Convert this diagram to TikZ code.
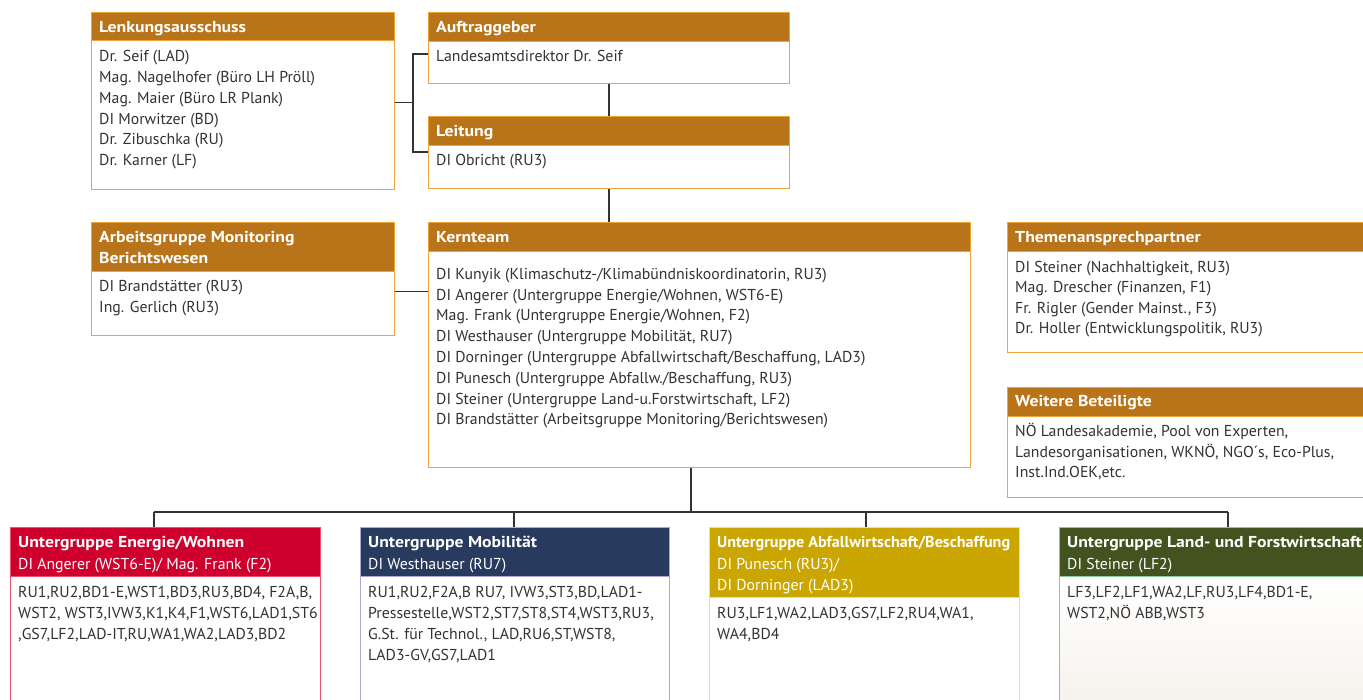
\documentclass[tikz,border=0pt]{standalone}
\usepackage{fontspec}
\usepackage{graphicx}
\setmainfont{PT Sans}
\newfontfamily\hdrfont[FakeStretch=1.12]{PT Sans}
\usetikzlibrary{calc}
\definecolor{hbrown}{HTML}{B97319}
\definecolor{bord}{HTML}{EFA43A}
\definecolor{txt}{HTML}{333333}
\definecolor{connc}{HTML}{333333}
\definecolor{ered}{HTML}{D0002E}
\definecolor{ebord}{HTML}{E8536B}
\definecolor{mnavy}{HTML}{283A5E}
\definecolor{mbord}{HTML}{A8A8D0}
\definecolor{agold}{HTML}{CBA600}
\definecolor{abord}{HTML}{F0DC9A}
\definecolor{lgreen}{HTML}{43531F}
\definecolor{lbord}{HTML}{8CC8A0}
\definecolor{lfade}{HTML}{F6F2EC}
\newcommand\fst{\rule{0pt}{15pt}}
\tikzset{
 hdr/.style={draw=bord, fill=hbrown, line width=1.3pt, inner sep=0pt, anchor=north west},
 bdy/.style={draw=bord, fill=white, line width=1.3pt, inner sep=0pt, anchor=north west},
 htext/.style={text=white, font=\fontsize{15.8}{21}\selectfont\hdrfont\bfseries, inner sep=0pt, anchor=north west, align=left},
 hltext/.style={text=white, font=\fontsize{15.8}{21.5}\selectfont, inner sep=0pt, anchor=north west, align=left},
 btext/.style={text=txt, font=\fontsize{15.8}{20.7}\selectfont, inner sep=0pt, anchor=north west, align=left},
 conn/.style={draw=connc, line width=1.4pt},
}
\begin{document}
\begin{tikzpicture}[x=1pt,y=-1pt]
\useasboundingbox (0,0) rectangle (1363,699);
\clip (0,0) rectangle (1363,699);
% Lenkungsausschuss
\node[hdr, minimum width=303pt, minimum height=28pt] (lenkh) at (91,12) {};
\node[bdy, minimum width=303pt, minimum height=149pt] (lenk) at (91,40) {};
\node[htext] (lenkht) at (99,17.7) {\fst Lenkungsausschuss};
\node[btext] (lenkbt) at (99,46.7) {\fst Dr. Seif (LAD)\\Mag. Nagelhofer (Büro LH Pröll)\\Mag. Maier (Büro LR Plank)\\DI Morwitzer (BD)\\Dr. Zibuschka (RU)\\Dr. Karner (LF)};
% Auftraggeber
\node[hdr, minimum width=361pt, minimum height=29pt] (aufh) at (428,12) {};
\node[bdy, minimum width=361pt, minimum height=42pt] (auf) at (428,41) {};
\node[htext] (aufht) at (436,17.7) {\fst Auftraggeber};
\node[btext] (aufbt) at (436,46.7) {\fst Landesamtsdirektor Dr. Seif};
% Leitung
\node[hdr, minimum width=361pt, minimum height=29pt] (leih) at (428,116) {};
\node[bdy, minimum width=361pt, minimum height=43pt] (lei) at (428,145) {};
\node[htext] (leiht) at (436,121.7) {\fst Leitung};
\node[btext] (leibt) at (436,150) {\fst DI Obricht (RU3)};
% Arbeitsgruppe
\node[hdr, minimum width=303pt, minimum height=49pt] (arbh) at (91,222) {};
\node[bdy, minimum width=303pt, minimum height=64pt] (arb) at (91,271) {};
\node[htext] (arbht) at (99,227.7) {\fst Arbeitsgruppe Monitoring\\Berichtswesen};
\node[btext, font=\fontsize{15.8}{21}\selectfont] (arbbt) at (99,276.7) {\fst DI Brandstätter (RU3)\\Ing. Gerlich (RU3)};
% Kernteam
\node[hdr, minimum width=542pt, minimum height=29pt] (kernh) at (428,222) {};
\node[bdy, minimum width=542pt, minimum height=216pt] (kern) at (428,251) {};
\node[htext] (kernht) at (436,227.7) {\fst Kernteam};
\node[btext, font=\fontsize{15.8}{20.8}\selectfont] (kernbt) at (436,264) {\fst DI Kunyik (Klimaschutz-/Klimabündniskoordinatorin, RU3)\\DI Angerer (Untergruppe Energie/Wohnen, WST6-E)\\Mag. Frank (Untergruppe Energie/Wohnen, F2)\\DI Westhauser (Untergruppe Mobilität, RU7)\\DI Dorninger (Untergruppe Abfallwirtschaft/Beschaffung, LAD3)\\DI Punesch (Untergruppe Abfallw./Beschaffung, RU3)\\DI Steiner (Untergruppe Land-u.Forstwirtschaft, LF2)\\DI Brandstätter (Arbeitsgruppe Monitoring/Berichtswesen)};
% Themenansprechpartner
\node[hdr, minimum width=380pt, minimum height=29pt] (themh) at (1007,222) {};
\node[bdy, minimum width=380pt, minimum height=101pt] (them) at (1007,251) {};
\node[htext] (themht) at (1015,227.3) {\fst Themenansprechpartner};
\node[btext, font=\fontsize{15.8}{20.3}\selectfont] (thembt) at (1015,257.3) {\fst DI Steiner (Nachhaltigkeit, RU3)\\Mag. Drescher (Finanzen, F1)\\Fr. Rigler (Gender Mainst., F3)\\Dr. Holler (Entwicklungspolitik, RU3)};
% Weitere Beteiligte
\node[hdr, minimum width=380pt, minimum height=29pt] (weih) at (1007,387) {};
\node[bdy, minimum width=380pt, minimum height=81pt] (wei) at (1007,416) {};
\node[htext] (weiht) at (1015,391.7) {\fst Weitere Beteiligte};
\node[btext, font=\fontsize{15.8}{20.3}\selectfont] (weibt) at (1015,421.7) {\fst NÖ Landesakademie, Pool von Experten,\\Landesorganisationen, WKNÖ, NGO´s, Eco-Plus,\\Inst.Ind.OEK,etc.};
% Energie/Wohnen
\node[hdr, fill=ered, draw=ebord, minimum width=310pt, minimum height=49pt] (egh) at (10,527) {};
\node[bdy, draw=ebord, minimum width=310pt, minimum height=134pt] (eg) at (10,576) {};
\node[htext] (eght) at (18,532.5) {\fst Untergruppe Energie/Wohnen};
\node[hltext] (eghl) at (18,554) {\fst DI Angerer (WST6-E)/ Mag. Frank (F2)};
\node[btext, font=\fontsize{15.8}{21}\selectfont] (egbt) at (18,582) {\fst RU1,RU2,BD1-E,WST1,BD3,RU3,BD4, F2A,B,\\WST2, WST3,IVW3,K1,K4,F1,WST6,LAD1,ST6\\,GS7,LF2,LAD-IT,RU,WA1,WA2,LAD3,BD2};
% Mobilitaet
\node[hdr, fill=mnavy, draw=mbord, minimum width=309pt, minimum height=49pt] (mgh) at (360,527) {};
\node[bdy, draw=mbord, minimum width=309pt, minimum height=134pt] (mg) at (360,576) {};
\node[htext] (mght) at (368,532.5) {\fst Untergruppe Mobilität};
\node[hltext] (mghl) at (368,554) {\fst DI Westhauser (RU7)};
\node[btext, font=\fontsize{15.8}{21}\selectfont] (mgbt) at (368,582) {\fst RU1,RU2,F2A,B RU7, IVW3,ST3,BD,LAD1-\\Pressestelle,WST2,ST7,ST8,ST4,WST3,RU3,\\G.St. für Technol., LAD,RU6,ST,WST8,\\LAD3-GV,GS7,LAD1};
% Abfall
\node[hdr, fill=agold, draw=abord, minimum width=310pt, minimum height=70pt] (agh) at (709,527) {};
\node[bdy, draw=abord, minimum width=310pt, minimum height=113pt] (ag) at (709,597) {};
\node[htext] (aght) at (717,532.5) {\fst \resizebox{293pt}{\height}{Untergruppe Abfallwirtschaft/Beschaffung}};
\node[hltext] (aghl) at (717,554) {\fst DI Punesch (RU3)/\\DI Dorninger (LAD3)};
\node[btext, font=\fontsize{15.8}{21}\selectfont] (agbt) at (717,603.3) {\fst RU3,LF1,WA2,LAD3,GS7,LF2,RU4,WA1,\\WA4,BD4};
% Land
\node[hdr, fill=lgreen, draw=lbord, minimum width=330pt, minimum height=49pt] (lgh) at (1059,527) {};
\node[bdy, draw=lbord, shade, shading angle=45, top color=white, bottom color=lfade, minimum width=330pt, minimum height=134pt] (lg) at (1059,576) {};
\node[htext] (lght) at (1067,532.5) {\fst Untergruppe Land- und Forstwirtschaft};
\node[hltext] (lghl) at (1067,554) {\fst DI Steiner (LF2)};
\node[btext, font=\fontsize{15.8}{21}\selectfont] (lgbt) at (1067,582) {\fst LF3,LF2,LF1,WA2,LF,RU3,LF4,BD1-E,\\WST2,NÖ ABB,WST3};
% connectors
\coordinate (brk) at (413,102.5);
\draw[conn] (lenk.east |- brk) -- (brk);
\draw[conn] ($(auf.north west)+(0,13)$) -- ($(auf.north west)+(-15,13)$) |- ($(lei.north west)+(0,7)$);
\draw[conn] (auf.south) -- (leih.north);
\draw[conn] (lei.south) -- (lei.south |- kernh.north);
\coordinate (ak) at (411,291.7);
\draw[conn] (arb.east |- ak) -- (kern.west |- ak);
\coordinate (bus) at (691,512);
\draw[conn] (kern.south -| bus) -- (bus);
\coordinate (d1) at (154,512);
\coordinate (d2) at (514,512);
\coordinate (d3) at (866,512);
\coordinate (d4) at (1228,512);
\draw[conn] (d1) -- (d4);
\draw[conn] (d1) -- (d1 |- egh.north);
\draw[conn] (d2) -- (d2 |- mgh.north);
\draw[conn] (d3) -- (d3 |- agh.north);
\draw[conn] (d4) -- (d4 |- lgh.north);
\end{tikzpicture}
\end{document}
